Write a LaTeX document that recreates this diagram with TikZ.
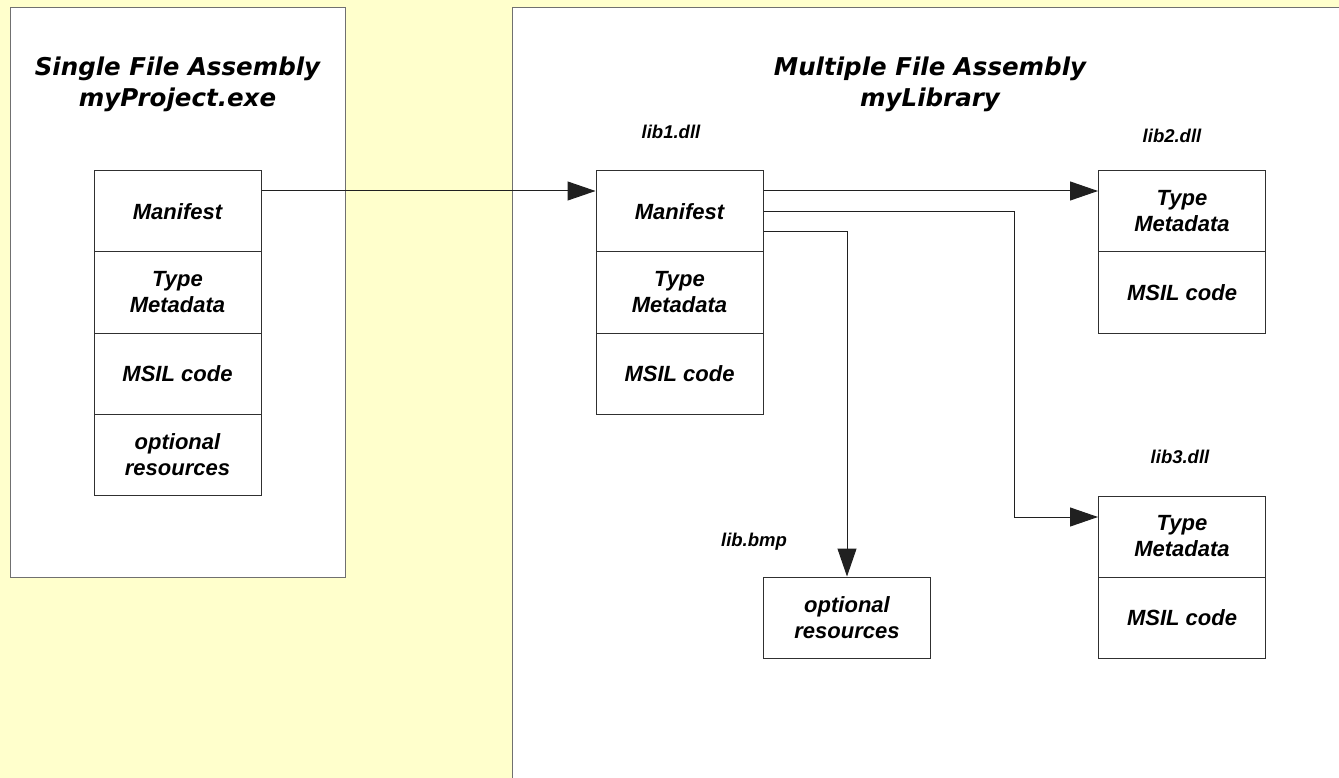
\documentclass[tikz,border=0pt]{standalone}
\usepackage{fontspec}
\setmainfont{Liberation Sans}
\newfontfamily\titlefont{DejaVu Sans}
\usetikzlibrary{arrows.meta}
\definecolor{bgyellow}{HTML}{FFFFCC}
\definecolor{panelline}{HTML}{707070}
\definecolor{boxline}{HTML}{303030}
\definecolor{conline}{HTML}{202020}
\tikzset{
  panel/.style={fill=white, draw=panelline, line width=1pt},
  cell/.style={draw=boxline, line width=1pt, fill=white, minimum width=167pt, minimum height=81pt,
    inner sep=0pt, align=center, font=\fontsize{22}{26}\selectfont\bfseries\itshape},
  title/.style={inner sep=0pt, align=center, font=\titlefont\fontsize{24.5}{31}\selectfont\bfseries\itshape},
  liblabel/.style={inner sep=0pt, font=\fontsize{18.5}{22}\selectfont\bfseries\itshape},
  conn/.style={draw=conline, line width=1pt, -{Triangle[length=28pt,width=19pt]}},
}
\begin{document}
\begin{tikzpicture}[x=1pt,y=-1pt]
\useasboundingbox (0,0) rectangle (1339,778);
\fill[bgyellow] (0,0) rectangle (1339,778);
% panels
\draw[panel] (10,8) rectangle (345,577);
\fill[white] (512,8) rectangle (1345,785);
\draw[panelline, line width=1pt] (512,785) -- (512,8) -- (1345,8);
% titles
\node[title] (t1) at (177.5,84) {Single File Assembly\\myProject.exe};
\node[title] (t2) at (930,84) {Multiple File Assembly\\myLibrary};
% left stack
\node[cell] (lm) at (177.5,211.5) {Manifest};
\node[cell] (lt) at (177.5,292.5) {Type\\Metadata};
\node[cell] (lc) at (177.5,373.5) {MSIL code};
\node[cell] (lr) at (177.5,455) {optional\\resources};
% lib1
\node[liblabel] (l1) at (671,132) {lib1.dll};
\node[cell] (am) at (679.5,211.5) {Manifest};
\node[cell] (at) at (679.5,292.5) {Type\\Metadata};
\node[cell] (ac) at (679.5,373.5) {MSIL code};
% lib2
\node[liblabel] (l2) at (1172,136) {lib2.dll};
\node[cell] (bt) at (1182,211.5) {Type\\Metadata};
\node[cell] (bc) at (1182,292.5) {MSIL code};
% lib3
\node[liblabel] (l3) at (1180,457) {lib3.dll};
\node[cell] (ct) at (1182,536.5) {Type\\Metadata};
\node[cell] (cc) at (1182,617.5) {MSIL code};
% bmp
\node[liblabel] (lb) at (754,542) {lib.bmp};
\node[cell] (br) at (847,617.5) {optional\\resources};
% connectors
\coordinate (turn) at (1014,212);
\draw[conn] ([yshift=20.5pt]lm.east) -- ([yshift=20.5pt]am.west);
\draw[conn] ([yshift=20.5pt]am.east) -- ([yshift=20.5pt]bt.west);
\draw[conn] ([yshift=-0.5pt]am.east) -- (turn) |- ([yshift=19.5pt]ct.west);
\draw[conn] ([yshift=-20.5pt]am.east) -| (br.north);
\end{tikzpicture}
\end{document}
